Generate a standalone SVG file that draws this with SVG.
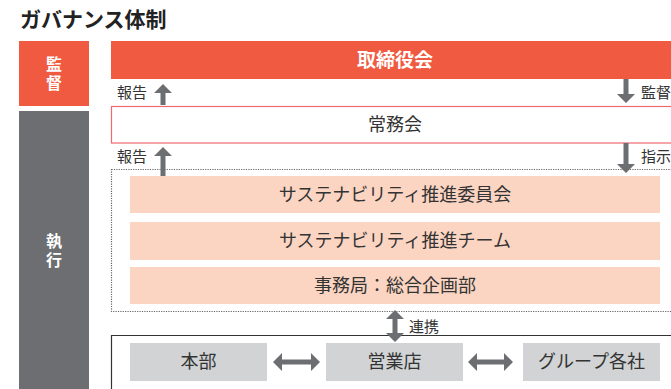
<svg xmlns="http://www.w3.org/2000/svg" width="671" height="389" viewBox="0 0 671 389">
<style>
text{font-family:"Noto Sans CJK JP","Noto Sans",sans-serif;}
.title{font-size:21px;font-weight:bold;fill:#222;}
.side{font-size:16px;font-weight:bold;fill:#fff;text-anchor:middle;writing-mode:vertical-rl;letter-spacing:3px;}
.lbl{font-size:15px;fill:#333;}
.box{font-size:18px;fill:#333;text-anchor:middle;}
.arr{fill:#6D6E71;}
.salmon{fill:#FCD5C2;}
.gray{fill:#D1D3D4;}
</style>
<rect width="671" height="389" fill="#fff"/>
<text class="title" x="20" y="27">ガバナンス体制</text>

<g id="kansa">
<rect x="19" y="41" width="70" height="65" fill="#F05A40"/>
<text class="side" x="54" y="75">監督</text>
</g>
<g id="shikko">
<rect x="19" y="111" width="70" height="280" fill="#6D6E71"/>
<text class="side" x="54" y="251.5">執行</text>
</g>

<g id="torishimariyakukai">
<rect x="111" y="41" width="570" height="38" fill="#F05A40"/>
<text x="395" y="66.5" style="font-size:19px;font-weight:bold;fill:#fff;text-anchor:middle">取締役会</text>
</g>

<g id="jomukai">
<rect x="111.5" y="106.5" width="570" height="36.5" fill="#fff" stroke="#EE6A6E" stroke-width="1.2"/>
<text class="box" x="395" y="130.5">常務会</text>
</g>

<g id="group-exec">
<rect x="111.5" y="169.5" width="570" height="142" fill="none" stroke="#666" stroke-width="1.2" stroke-dasharray="1.2 1.2"/>
</g>

<g id="sus-committee">
<rect class="salmon" x="130" y="176" width="530" height="37"/>
<text class="box" x="395" y="200.5">サステナビリティ推進委員会</text>
</g>
<g id="sus-team">
<rect class="salmon" x="130" y="222" width="530" height="38"/>
<text class="box" x="395" y="247">サステナビリティ推進チーム</text>
</g>
<g id="secretariat">
<rect class="salmon" x="130" y="267" width="530" height="37"/>
<text class="box" x="395" y="291.5">事務局：総合企画部</text>
</g>

<g id="bottom-frame">
<path d="M111.5,389 V335.5 H671" fill="none" stroke="#333" stroke-width="1.2"/>
</g>
<g id="honbu">
<rect class="gray" x="130" y="343" width="137" height="38"/>
<text class="box" x="198.5" y="368">本部</text>
</g>
<g id="eigyoten">
<rect class="gray" x="326" y="343" width="137" height="38"/>
<text class="box" x="394.5" y="368">営業店</text>
</g>
<g id="group-companies">
<rect class="gray" x="523" y="343" width="137" height="38"/>
<text class="box" x="591.5" y="368">グループ各社</text>
</g>

<g id="connectors">
<path class="arr" d="M163,84 L172,93 L165.5,93 L165.5,105 L160.5,105 L160.5,93 L154,93 Z"/>
<text class="lbl" x="117" y="97.5">報告</text>
<path class="arr" d="M626,103 L617,94 L623.5,94 L623.5,79 L628.5,79 L628.5,94 L635,94 Z"/>
<text class="lbl" x="641" y="97.5">監督</text>
<path class="arr" d="M163,147 L172,156 L165.5,156 L165.5,176 L160.5,176 L160.5,156 L154,156 Z"/>
<text class="lbl" x="117" y="162">報告</text>
<path class="arr" d="M626,173 L617,164 L623.5,164 L623.5,143 L628.5,143 L628.5,164 L635,164 Z"/>
<text class="lbl" x="641" y="162">指示</text>
<path class="arr" d="M395,310 L404,319 L397.5,319 L397.5,333 L404,333 L395,342 L386,333 L392.5,333 L392.5,319 L386,319 Z"/>
<text class="lbl" x="409" y="331.5">連携</text>
<path class="arr" d="M273,362 L282,353 L282,359.5 L311,359.5 L311,353 L320,362 L311,371 L311,364.5 L282,364.5 L282,371 Z"/>
<path class="arr" d="M468,362 L477,353 L477,359.5 L504,359.5 L504,353 L513,362 L504,371 L504,364.5 L477,364.5 L477,371 Z"/>
</g>
</svg>
